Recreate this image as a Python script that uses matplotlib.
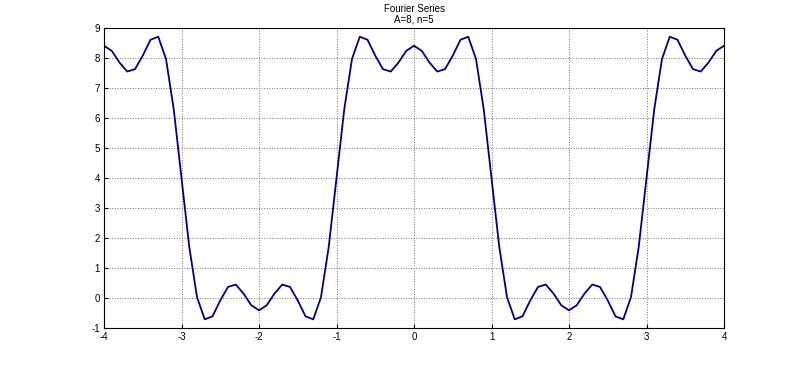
import numpy as np
import matplotlib
matplotlib.use('Agg')
import matplotlib.pyplot as plt

plt.rcParams['font.family'] = ['Liberation Sans', 'DejaVu Sans']
plt.rcParams['axes.unicode_minus'] = False

# samples, x = -4..4 every 0.1
x = np.linspace(-4, 4, 81)
y = [8.41, 8.24, 7.85, 7.55, 7.63, 8.08, 8.61, 8.71, 7.97, 6.29,
     4.00, 1.71, 0.03, -0.71, -0.61, -0.08, 0.37, 0.45, 0.15, -0.24,
     -0.41, -0.24, 0.15, 0.45, 0.37, -0.08, -0.61, -0.71, 0.03, 1.71,
     4.00, 6.29, 7.97, 8.71, 8.61, 8.08, 7.63, 7.55, 7.85, 8.24,
     8.41, 8.24, 7.85, 7.55, 7.63, 8.08, 8.61, 8.71, 7.97, 6.29,
     4.00, 1.71, 0.03, -0.71, -0.61, -0.08, 0.37, 0.45, 0.15, -0.24,
     -0.41, -0.24, 0.15, 0.45, 0.37, -0.08, -0.61, -0.71, 0.03, 1.71,
     4.00, 6.29, 7.97, 8.71, 8.61, 8.08, 7.63, 7.55, 7.85, 8.24,
     8.41]
xticks = [-4, -3, -2, -1, 0, 1, 2, 3, 4]
yticks = [-1, 0, 1, 2, 3, 4, 5, 6, 7, 8, 9]

fig = plt.figure(figsize=(8, 3.69), dpi=100)
ax = fig.add_axes([0.13, 0.111, 0.775, 0.813])
ax.plot(x, y, color='#000080', linewidth=1.3)
ax.set_xlim(-4, 4)
ax.set_ylim(-1, 9)
ax.set_xticks(xticks)
ax.set_yticks(yticks)
ax.grid(True, linestyle=':', color='#777777', linewidth=0.7)
ax.tick_params(direction='in', labelsize=7, length=3, pad=3)
for s in ax.spines.values():
    s.set_linewidth(0.8)
ax.set_title('Fourier Series\nA=8, n=5', fontsize=7, linespacing=1.1, pad=4)

fig.savefig('out.png', dpi=100)
